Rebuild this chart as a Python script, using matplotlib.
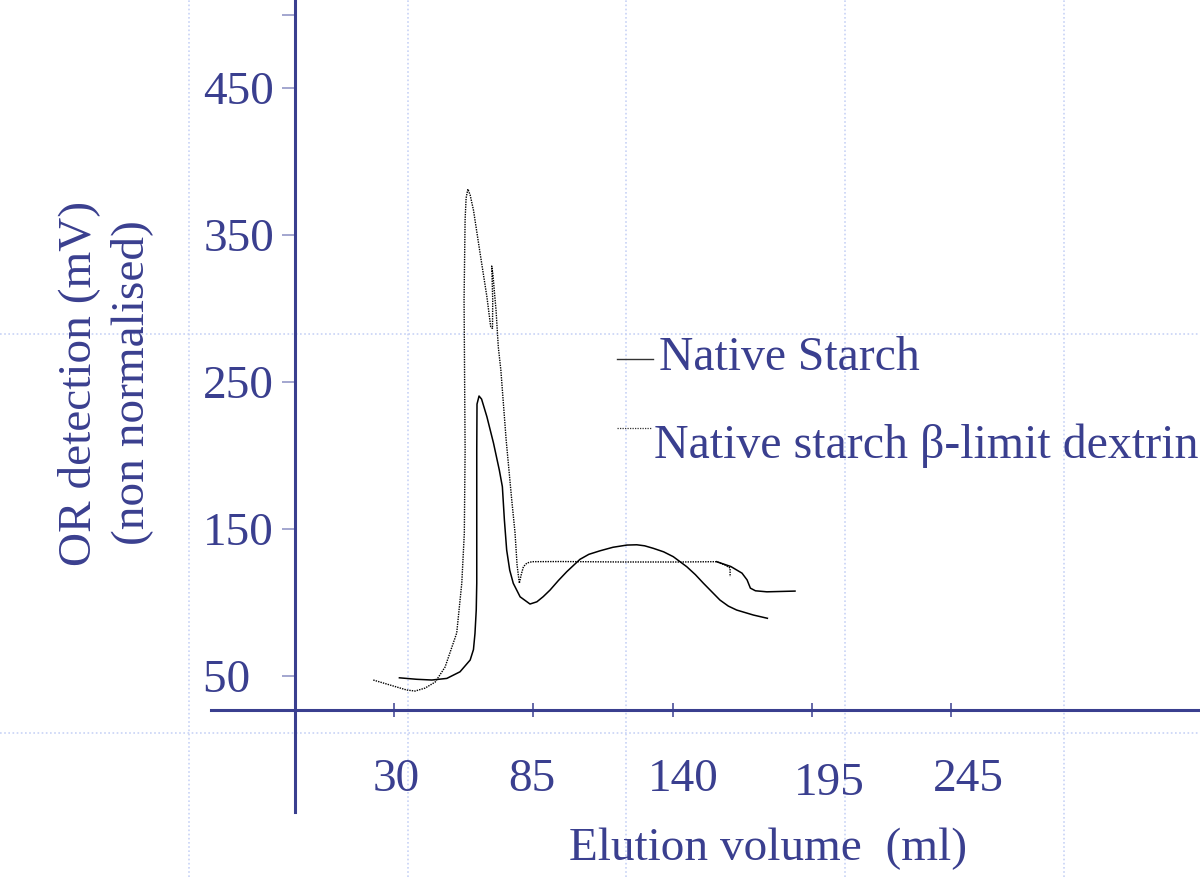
import matplotlib.pyplot as plt
from matplotlib.lines import Line2D

# elution profiles (ml, mV)
native_x = [32.3, 39.1, 45.1, 51.0, 56.2, 60.2, 61.5, 62.1, 62.6, 62.8, 62.8, 62.8, 62.9, 63.7, 64.7,
            66.8, 69.4, 71.7, 72.9, 73.7, 74.6, 75.8, 77.2, 79.9, 83.8, 86.5, 89.0, 91.7, 95.0, 98.3,
            103.5, 107.0, 111.4, 116.5, 122.0, 125.9, 129.0, 132.4, 136.5, 140.3, 145.6, 149.0, 152.2,
            158.7, 162.0, 165.3, 171.9, 177.4]
native_y = [48.8, 47.8, 47.3, 48.4, 52.9, 60.9, 68.0, 79.0, 95.0, 113.1, 156.1, 203.7, 235.0, 240.5, 238.4,
            226.4, 208.5, 190.1, 178.8, 156.1, 135.7, 122.0, 113.1, 103.9, 99.0, 100.5, 104.0, 108.5, 115.0, 121.0,
            129.4, 132.8, 135.2, 137.6, 139.1, 139.3, 138.6, 136.9, 134.5, 131.2, 124.4, 119.0, 113.1,
            101.7, 97.6, 94.9, 91.5, 89.3]

dextrin_x = [22.0, 28.6, 35.2, 38.5, 42.4, 46.4, 50.3, 54.9, 56.9, 57.9, 58.2, 57.8, 58.2, 58.6,
             59.3, 60.2, 61.5, 64.1, 66.8, 68.3, 69.0, 69.1, 68.7, 69.2, 69.7, 70.4, 71.3, 72.3,
             74.4, 76.6, 77.9, 78.7, 79.6, 80.3, 81.2, 82.6, 84.6, 95.7, 119.3, 143.0, 157.4,
             160.7, 162.7, 162.7]
dextrin_y = [47.3, 43.9, 40.5, 39.8, 41.8, 45.9, 56.1, 79.3, 113.3, 147.3, 203.7, 305.8, 360.2, 375.2,
             381.3, 377.2, 367.0, 337.8, 308.0, 287.6, 286.5, 305.8, 328.9, 322.8, 312.6, 299.0, 273.8, 258.2,
             210.5, 169.7, 147.3, 125.5, 113.1, 118.7, 124.4, 126.9, 127.8, 127.9, 127.6, 127.6, 127.8,
             125.5, 123.5, 117.6]

tail_x = [157.4, 163.0, 167.4, 169.4, 170.7, 172.7, 177.2, 188.3]
tail_y = [127.8, 124.5, 120.0, 115.4, 109.8, 108.0, 107.3, 107.8]

ytick_vals = [50, 150, 250, 350, 450, 500]
ytick_labels = ['50  ', '150', '250', '350', '450', '']
xtick_vals = [30, 85, 140, 195, 250]
xtick_labels = ['30', '85', '140', '195', '245']

navy = '#3a3f8f'
W, H = 1200, 877
plt.rcParams['font.family'] = ['Liberation Serif', 'DejaVu Serif']

fig = plt.figure(figsize=(12, 8.77), dpi=100)
ax = fig.add_axes([0, 0, 1, 1])
ax.patch.set_visible(False)

# slide guide lines
for gx in [189, 408, 626, 845, 1064]:
    fig.add_artist(Line2D([gx / W, gx / W], [0, 1], transform=fig.transFigure,
                          color='#c8d3f6', lw=1.2, ls=(0, (1, 1.5)), zorder=-1))
for gy in [334, 733]:
    fig.add_artist(Line2D([0, 1], [1 - gy / H, 1 - gy / H], transform=fig.transFigure,
                          color='#c8d3f6', lw=1.2, ls=(0, (1, 1.5)), zorder=-1))

ax.plot(native_x, native_y, color='black', lw=1.1)
ax.plot(dextrin_x, dextrin_y, color='black', lw=1.0, ls=(0, (1, 0.8)))
ax.plot(tail_x, tail_y, color='black', lw=1.1)

ax.set_xlim(-125.2, 348.0)
ax.set_ylim(-86.7, 509.9)

ax.spines['top'].set_visible(False)
ax.spines['right'].set_visible(False)
ax.spines['left'].set_position(('data', -8.8))
ax.spines['left'].set_bounds(-42.5, 509.9)
ax.spines['bottom'].set_position(('data', 27))
ax.spines['bottom'].set_bounds(-42, 348)
for s in ['left', 'bottom']:
    ax.spines[s].set_linewidth(2.2)
    ax.spines[s].set_color(navy)

ax.set_yticks(ytick_vals, ytick_labels)
ax.tick_params(axis='y', direction='out', length=9.4, width=1.1, color='#8a8ec2',
               labelcolor=navy, labelsize=34, pad=5.8)
ax.set_xticks(xtick_vals, [''] * len(xtick_vals))
ax.tick_params(axis='x', direction='inout', length=9.5, width=1.1, color=navy)

# x tick labels sit a little off their ticks on the slide
xlab_px = [(396, 791), (532, 791), (683, 791), (829, 795), (968, 791)]
for lab, (px, py) in zip(xtick_labels, xlab_px):
    fig.text(px / W, 1 - py / H, lab, ha='center', va='baseline', fontsize=34, color=navy)

fig.text(768 / W, 1 - 860 / H, 'Elution volume  (ml)', ha='center', va='baseline',
         fontsize=34, color=navy)
fig.text(105 / W, 1 - 383 / H, 'OR detection (mV)\n(non normalised)', rotation=90,
         ha='center', va='center', multialignment='center', fontsize=34, color=navy,
         linespacing=1.3)

# legend
fig.add_artist(Line2D([617 / W, 653 / W], [1 - 359 / H] * 2, transform=fig.transFigure,
                      color='#333333', lw=1.0))
fig.add_artist(Line2D([617 / W, 652 / W], [1 - 428 / H] * 2, transform=fig.transFigure,
                      color='#333333', lw=0.9, ls=(0, (1, 1))))
fig.text(659 / W, 1 - 370 / H, 'Native Starch', va='baseline', fontsize=34.3, color=navy)
fig.text(654 / W, 1 - 458 / H, 'Native starch \u03b2-limit dextrin', va='baseline',
         fontsize=34.5, color=navy)

fig.savefig('out.png', dpi=100)
